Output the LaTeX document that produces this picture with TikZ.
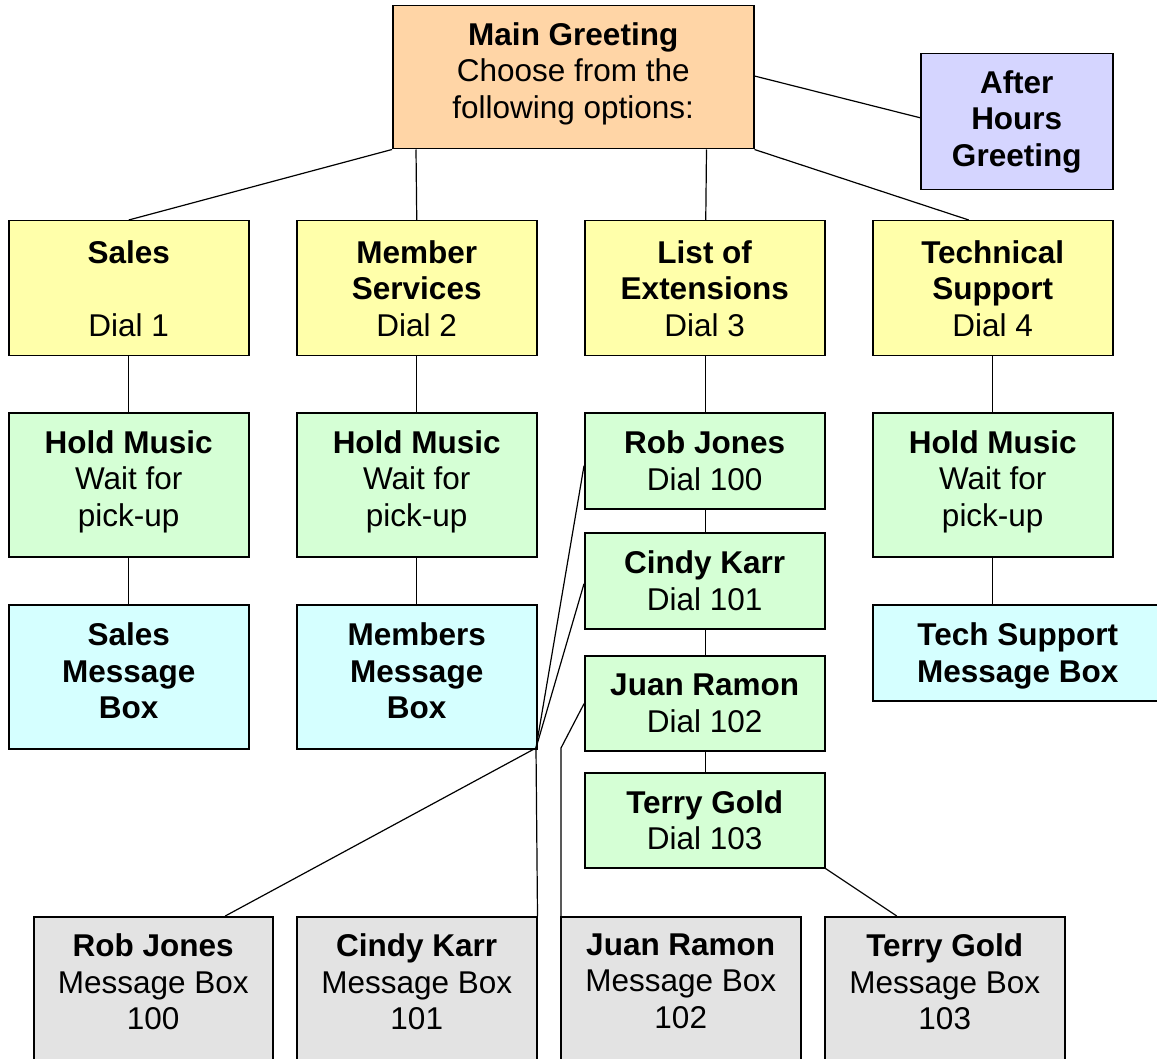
\documentclass[tikz,border=0pt]{standalone}
\usepackage{fontspec}
\setmainfont{Liberation Sans}
\usetikzlibrary{calc}
\definecolor{peach}{HTML}{FFD5A6}
\definecolor{lav}{HTML}{D5D5FF}
\definecolor{yel}{HTML}{FFFFAA}
\definecolor{grn}{HTML}{D5FFD5}
\definecolor{cyn}{HTML}{D5FFFF}
\definecolor{gry}{HTML}{E3E3E3}
\tikzset{
  box/.style={draw, line width=1.5pt, anchor=north west, inner sep=0pt, align=center,
    font=\fontsize{31.5}{36.5}\selectfont, minimum width=240},
  conn/.style={line width=1.2pt},
}
\begin{document}
\begin{tikzpicture}[x=1pt,y=-1pt]
\useasboundingbox (0,0) rectangle (1157,1059);
\clip (0,0) rectangle (1157,1059);
% top
\node[box, fill=peach, minimum width=361, minimum height=143, text depth=14pt] (main) at (392,5)
  {\textbf{Main Greeting}\\Choose from the\\following options:};
\node[box, fill=lav, minimum width=192, minimum height=136] (after) at (920,53)
  {\textbf{After}\\\textbf{Hours}\\\textbf{Greeting}};
% row 2
\node[box, fill=yel, minimum height=135] (sales) at (8,220) {\textbf{Sales}\\\strut\\Dial 1};
\node[box, fill=yel, minimum height=135] (member) at (296,220) {\textbf{Member}\\\textbf{Services}\\Dial 2};
\node[box, fill=yel, minimum height=135] (list) at (584,220) {\textbf{List of}\\\textbf{Extensions}\\Dial 3};
\node[box, fill=yel, minimum height=135] (tech) at (872,220) {\textbf{Technical}\\\textbf{Support}\\Dial 4};
% row 3
\tikzset{holdbox/.style={box, fill=grn, minimum height=144, text depth=12.5pt}}
\node[holdbox] (hold1) at (8,412) {\textbf{Hold Music}\\Wait for\\pick-up};
\node[holdbox] (hold2) at (296,412) {\textbf{Hold Music}\\Wait for\\pick-up};
\node[holdbox] (hold4) at (872,412) {\textbf{Hold Music}\\Wait for\\pick-up};
\node[box, fill=grn, minimum height=96] (rob) at (584,412) {\textbf{Rob Jones}\\Dial 100};
\node[box, fill=grn, minimum height=96] (cindy) at (584,532) {\textbf{Cindy Karr}\\Dial 101};
\node[box, fill=grn, minimum height=95] (juan) at (584,655) {\textbf{Juan Ramon}\\Dial 102};
\node[box, fill=grn, minimum height=95] (terry) at (584,772) {\textbf{Terry Gold}\\Dial 103};
% row 4
\node[box, fill=cyn, minimum height=144, text depth=12pt] (smsg) at (8,604) {\textbf{Sales}\\\textbf{Message}\\\textbf{Box}};
\node[box, fill=cyn, minimum height=144, text depth=12pt] (mmsg) at (296,604) {\textbf{Members}\\\textbf{Message}\\\textbf{Box}};
\node[box, fill=cyn, minimum width=290, minimum height=96, text depth=0pt] (tmsg) at (872,604) {\textbf{Tech Support}\\\textbf{Message Box}};
% bottom
\tikzset{bbox/.style={box, fill=gry, minimum width=239, inner ysep=17pt, text depth=90pt}}
\node[bbox] (rm) at (33,916) {\textbf{Rob Jones}\\Message Box\\100};
\node[bbox, minimum width=240] (cm) at (296,916) {\textbf{Cindy Karr}\\Message Box\\101};
\node[bbox, minimum width=240] (jm) at (560,916) {\textbf{Juan Ramon}\\Message Box\\102};
\node[bbox, minimum width=240] (tm) at (824,916) {\textbf{Terry Gold}\\Message Box\\103};
% bend points
\coordinate (b1) at (536,748);
\coordinate (b2) at (561,748);
% connectors
\draw[conn] (main.south west) -- (sales.north);
\draw[conn] ([xshift=24]main.south west) -- (member.north);
\draw[conn] ([xshift=-48]main.south east) -- ([xshift=1]list.north);
\draw[conn] (main.south east) -- ([xshift=-24]tech.north);
\draw[conn] ([yshift=-71]main.north east) -- ([yshift=4]after.west);
\draw[conn] (sales) -- (hold1);
\draw[conn] (hold1) -- (smsg);
\draw[conn] (member) -- (hold2);
\draw[conn] (hold2) -- (mmsg);
\draw[conn] (tech) -- (hold4);
\draw[conn] (hold4.south) -- (hold4.south |- tmsg.north);
\draw[conn] ([xshift=1]list.south) -- ([xshift=1]rob.north);
\draw[conn] ([xshift=1]rob.south) -- ([xshift=1]cindy.north);
\draw[conn] ([xshift=1]cindy.south) -- ([xshift=1]juan.north);
\draw[conn] ([xshift=1]juan.south) -- ([xshift=1]terry.north);
\draw[conn] ([yshift=-5]rob.west) -- (b1) -- ([xshift=72]rm.north);
\draw[conn] ([yshift=-3]cindy.west) -- (b1) -- (cm.north east);
\draw[conn] ([yshift=-0.5]juan.west) -- (b2) -- ([xshift=1]jm.north west);
\draw[conn] (terry.south east) -- ([xshift=-48]tm.north);
\end{tikzpicture}
\end{document}
